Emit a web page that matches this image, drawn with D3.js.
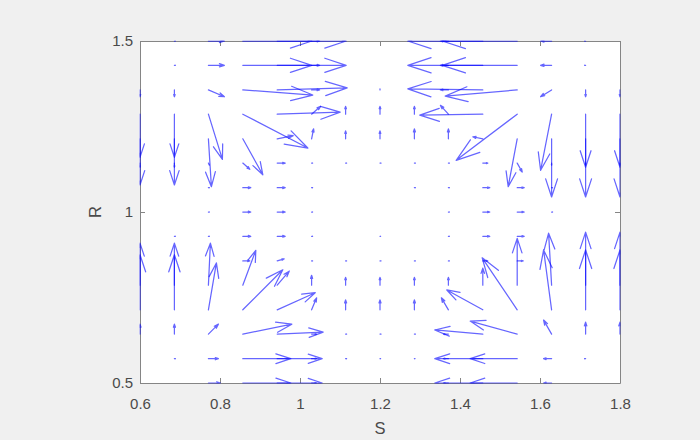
<!DOCTYPE html>
<html><head><meta charset="utf-8">
<script src="https://cdn.jsdelivr.net/npm/d3@7"></script>
<style>
body{margin:0;background:#f0f0f0;}
svg{display:block;font-family:"Liberation Sans",Arial,Helvetica,sans-serif;}
</style>
</head><body>
<svg id="chart" width="700" height="440"></svg>
<script>
// Grid of the quiver plot
const S = [0.6, 0.686, 0.771, 0.857, 0.943, 1.029, 1.114, 1.2, 1.286, 1.371, 1.457, 1.543, 1.629, 1.714, 1.8];
// rows listed from top (R = 1.5) to bottom (R = 0.5)
const R = [1.5, 1.429, 1.357, 1.286, 1.214, 1.143, 1.071, 1.0, 0.929, 0.857, 0.786, 0.714, 0.643, 0.571, 0.5];

// dS components (data units), one row per R value
const U = [
  [0, 0.0025, 0.04, 0.1725, 0.1725, 0.02, 0, 0, 0, -0.02, -0.1875, -0.1875, -0.0275, -0.0025, 0],
  [0, 0.0025, 0.04, 0.1725, 0.1725, 0.02, 0, 0, 0, -0.02, -0.1875, -0.1875, -0.0275, -0.0025, 0],
  [0, 0, 0.04, 0.175, 0.175, 0.02, 0, 0, 0, -0.02, -0.1875, -0.18, -0.0275, 0, 0],
  [0, 0, 0.035, 0.1625, 0.1575, 0.0225, 0, 0, 0, -0.02, -0.1575, -0.1525, -0.0275, 0, 0],
  [0, 0, 0.0075, 0.05, 0.04, 0.005, 0, 0, 0, 0, -0.025, -0.0225, 0, 0, 0],
  [0, 0, 0.0025, 0.0175, 0.02, 0.0025, 0.0025, 0.0025, 0.0025, 0.0025, 0.0125, 0.0125, 0, 0, 0],
  [0, 0, 0.0025, 0.02, 0.02, 0.0025, 0, 0, 0.0025, 0.0025, 0.0175, 0.0175, 0.0025, 0, 0],
  [0, 0, 0.0025, 0.02, 0.02, 0.0025, 0, 0, 0, 0.0025, 0.0175, 0.0175, 0.0025, 0, 0],
  [0, 0.0025, 0.0025, 0.02, 0.02, 0.0025, 0, 0.0015, 0, 0.0025, 0.0175, 0.0175, 0, 0, 0],
  [0, 0, 0, 0.0175, 0.0175, 0.0025, 0.0025, 0.0025, 0.0025, 0.0025, 0.0125, 0.015, 0, 0, 0],
  [0, 0, 0.005, 0.0325, 0.03, 0, 0, 0, 0, 0, 0, 0, -0.0075, 0, 0],
  [0, 0, 0.02, 0.1, 0.095, 0.0125, 0, 0, 0, -0.0175, -0.09, -0.0875, -0.02, 0, 0],
  [0, 0, 0.025, 0.1225, 0.115, 0.0125, 0.0025, 0.0025, 0.0025, -0.0125, -0.12, -0.1175, -0.02, 0, 0],
  [0, 0.0025, 0.025, 0.12, 0.1125, 0.0125, 0.0025, 0.0015, 0.0015, -0.0125, -0.12, -0.1175, -0.02, -0.0025, 0],
  [0, 0, 0.03, 0.12, 0.1125, 0.0125, 0, 0, 0, -0.0125, -0.12, -0.1175, -0.02, 0, 0]
];
// dR components (data units)
const V = [
  [0, 0, 0, 0, 0, 0, 0, 0, 0, 0, 0, 0, 0, 0, 0],
  [0, 0, 0, 0, 0, 0, 0, 0, 0, 0, 0, 0, 0, 0, 0],
  [-0.02, -0.02, -0.02, -0.015, 0.006, 0, 0, 0.003, 0, 0, 0.003, -0.018, -0.02, -0.02, -0.02],
  [-0.126, -0.126, -0.132, -0.099, 0.006, 0.023, 0.023, 0.023, 0.023, 0.026, -0.003, -0.135, -0.164, -0.155, -0.155],
  [-0.135, -0.135, -0.14, -0.105, 0.009, 0.029, 0.023, 0.023, 0.029, 0.029, 0.006, -0.14, -0.17, -0.17, -0.17],
  [-0.012, -0.012, -0.006, -0.018, 0, 0, 0, 0, 0, 0, 0, -0.026, -0.006, -0.006, -0.006],
  [0, 0, 0, 0, 0, 0, 0, 0, 0, 0, 0, 0, 0, 0, 0],
  [0, 0, 0, 0, 0, 0, 0, 0, 0, 0, 0, 0, 0, 0, 0],
  [0, 0, 0, 0, 0, 0, 0, 0, 0, 0, 0, 0, 0, 0, 0],
  [0, 0, 0, 0, 0.006, 0, 0, 0, 0, 0, 0, 0, 0, 0, 0],
  [0.123, 0.123, 0.123, 0.102, 0.041, 0.029, 0.023, 0.023, 0.023, 0.023, 0.05, 0.137, 0.152, 0.155, 0.155],
  [0.161, 0.161, 0.137, 0.117, 0.05, 0.035, 0.029, 0.029, 0.029, 0.035, 0.058, 0.152, 0.175, 0.175, 0.175],
  [0.029, 0.029, 0.029, 0.029, 0.006, 0, 0, 0, 0, 0, 0.012, 0.038, 0.041, 0.035, 0.035],
  [0, 0, 0, 0, 0, 0, 0, 0, 0, 0, 0, 0, 0, 0, 0],
  [0, 0, 0, 0, 0, 0, 0, 0, 0, 0, 0, 0, 0, 0, 0]
];

const xTicks = [0.6, 0.8, 1, 1.2, 1.4, 1.6, 1.8];
const yTicks = [0.5, 1, 1.5];
const xLabel = "S";
const yLabel = "R";

(function draw() {
  const svg = d3.select("#chart");
  const pL = 140, pR = 620, pT = 41, pB = 383;
  const x = d3.scaleLinear().domain([0.6, 1.8]).range([pL, pR]);
  const y = d3.scaleLinear().domain([0.5, 1.5]).range([pB, pT]);

  svg.append("rect").attr("width", 700).attr("height", 440).attr("fill", "#f0f0f0");
  svg.append("rect").attr("x", pL).attr("y", pT).attr("width", pR - pL).attr("height", pB - pT).attr("fill", "#ffffff");

  svg.append("defs").append("clipPath").attr("id", "clip")
    .append("rect").attr("x", pL - 0.5).attr("y", pT - 0.5).attr("width", pR - pL + 1).attr("height", pB - pT + 1);

  const tickCol = "#858585", textCol = "#4a4a4a", fs = 15;
  function styleAxis(g) {
    g.selectAll("path.domain").attr("stroke", tickCol).attr("stroke-width", 1);
    g.selectAll(".tick line").attr("stroke", tickCol).attr("stroke-width", 1);
    g.selectAll(".tick text").attr("fill", textCol).attr("font-size", fs).attr("font-family", "'Liberation Sans', Arial, sans-serif");
  }
  svg.append("g").attr("transform", `translate(0,${pB})`)
    .call(d3.axisBottom(x).tickValues(xTicks).tickSize(-5).tickSizeOuter(0).tickPadding(15).tickFormat(d => String(d)))
    .call(styleAxis);
  svg.append("g").attr("transform", `translate(0,${pT})`)
    .call(d3.axisTop(x).tickValues(xTicks).tickSize(-5).tickSizeOuter(0).tickFormat(""))
    .call(styleAxis);
  svg.append("g").attr("transform", `translate(${pL},0)`)
    .call(d3.axisLeft(y).tickValues(yTicks).tickSize(-5).tickSizeOuter(0).tickPadding(7).tickFormat(d => String(d)))
    .call(styleAxis);
  svg.append("g").attr("transform", `translate(${pR},0)`)
    .call(d3.axisRight(y).tickValues(yTicks).tickSize(-5).tickSizeOuter(0).tickFormat(""))
    .call(styleAxis);

  svg.append("text").attr("x", (pL + pR) / 2).attr("y", 434).attr("text-anchor", "middle")
    .attr("font-size", 16.5).attr("fill", textCol).text(xLabel);
  svg.append("text").attr("transform", `translate(101,${y(1)}) rotate(-90)`).attr("text-anchor", "middle")
    .attr("font-size", 16.5).attr("fill", textCol).text(yLabel);

  const arrows = [];
  R.forEach((r, j) => S.forEach((s, i) => {
    const u = U[j][i], v = V[j][i];
    if (u === 0 && v === 0) return;
    arrows.push({ s, r, u, v });
  }));
  const alpha = 0.31, beta = 0.33;
  function arrowPath(d) {
    const x0 = x(d.s), y0 = y(d.r);
    const x1 = x(d.s + d.u), y1 = y(d.r + d.v);
    const dx = x1 - x0, dy = y1 - y0;
    const b1x = x1 - alpha * (dx + beta * dy), b1y = y1 - alpha * (dy - beta * dx);
    const b2x = x1 - alpha * (dx - beta * dy), b2y = y1 - alpha * (dy + beta * dx);
    return `M${x0},${y0}L${x1},${y1}M${b1x},${b1y}L${x1},${y1}L${b2x},${b2y}`;
  }
  svg.append("g").attr("clip-path", "url(#clip)")
    .selectAll("path").data(arrows).join("path")
    .attr("d", arrowPath)
    .attr("fill", "none")
    .attr("stroke", "#0000ff")
    .attr("stroke-opacity", 0.6)
    .attr("stroke-width", 1.25)
    .attr("stroke-linecap", "round")
    .attr("stroke-linejoin", "round");
})();
</script>
</body></html>
